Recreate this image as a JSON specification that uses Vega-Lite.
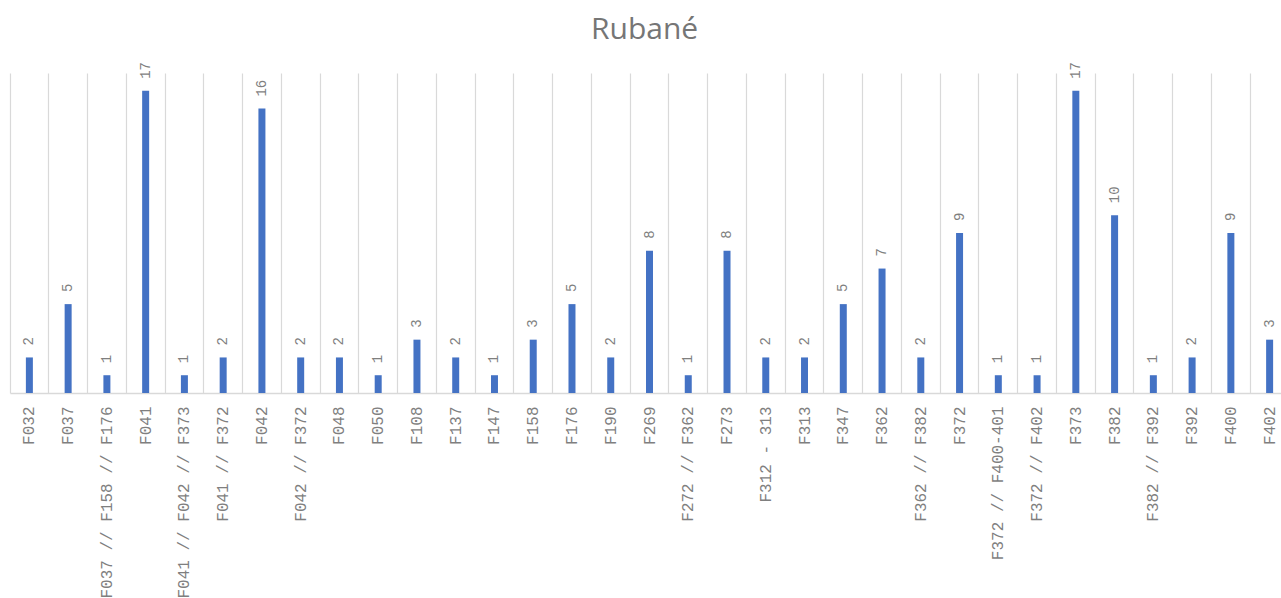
{
  "$schema": "https://vega.github.io/schema/vega-lite/v6.json",
  "width": 1279,
  "height": 320,
  "autosize": {"type": "none"},
  "padding": {"left": 10, "top": 73, "right": 0, "bottom": 205},
  "background": "white",
  "title": {
    "text": "Rubané",
    "fontSize": 30,
    "font": "Open Sans",
    "fontWeight": "normal",
    "color": "#767676",
    "anchor": "start",
    "dx": 581,
    "offset": 17
  },
  "data": {
    "values": [
      {"cat": "F032", "n": 2},
      {"cat": "F037", "n": 5},
      {"cat": "F037 // F158 // F176", "n": 1},
      {"cat": "F041", "n": 17},
      {"cat": "F041 // F042 // F373", "n": 1},
      {"cat": "F041 // F372", "n": 2},
      {"cat": "F042", "n": 16},
      {"cat": "F042 // F372", "n": 2},
      {"cat": "F048", "n": 2},
      {"cat": "F050", "n": 1},
      {"cat": "F108", "n": 3},
      {"cat": "F137", "n": 2},
      {"cat": "F147", "n": 1},
      {"cat": "F158", "n": 3},
      {"cat": "F176", "n": 5},
      {"cat": "F190", "n": 2},
      {"cat": "F269", "n": 8},
      {"cat": "F272 // F362", "n": 1},
      {"cat": "F273", "n": 8},
      {"cat": "F312 - 313", "n": 2},
      {"cat": "F313", "n": 2},
      {"cat": "F347", "n": 5},
      {"cat": "F362", "n": 7},
      {"cat": "F362 // F382", "n": 2},
      {"cat": "F372", "n": 9},
      {"cat": "F372 // F400-401", "n": 1},
      {"cat": "F372 // F402", "n": 1},
      {"cat": "F373", "n": 17},
      {"cat": "F382", "n": 10},
      {"cat": "F382 // F392", "n": 1},
      {"cat": "F392", "n": 2},
      {"cat": "F400", "n": 9},
      {"cat": "F402", "n": 3}
    ]
  },
  "encoding": {
    "x": {
      "field": "cat",
      "type": "nominal",
      "sort": null,
      "scale": {"paddingInner": 0, "paddingOuter": 0},
      "axis": {
        "title": null,
        "labelAngle": -90,
        "labelFont": "Liberation Mono",
        "labelFontSize": 16,
        "labelColor": "#7f7f7f",
        "labelPadding": 13,
        "labelLimit": 0,
        "ticks": false,
        "domainColor": "#d9d9d9",
        "domainWidth": 1.5,
        "grid": true,
        "gridColor": "#d9d9d9",
        "gridWidth": 1.2,
        "bandPosition": 0,
        "labelBound": false,
        "labelOverlap": false
      }
    },
    "y": {
      "field": "n",
      "type": "quantitative",
      "scale": {"domain": [0, 18], "nice": false},
      "axis": null
    }
  },
  "layer": [
    {"mark": {"type": "bar", "size": 7, "color": "#4472c4"}},
    {
      "mark": {
        "type": "text",
        "angle": -90,
        "align": "left",
        "baseline": "middle",
        "dx": 12,
        "font": "Liberation Mono",
        "fontSize": 14,
        "color": "#7f7f7f"
      },
      "encoding": {"text": {"field": "n", "type": "quantitative"}}
    }
  ],
  "config": {"view": {"stroke": null}}
}
